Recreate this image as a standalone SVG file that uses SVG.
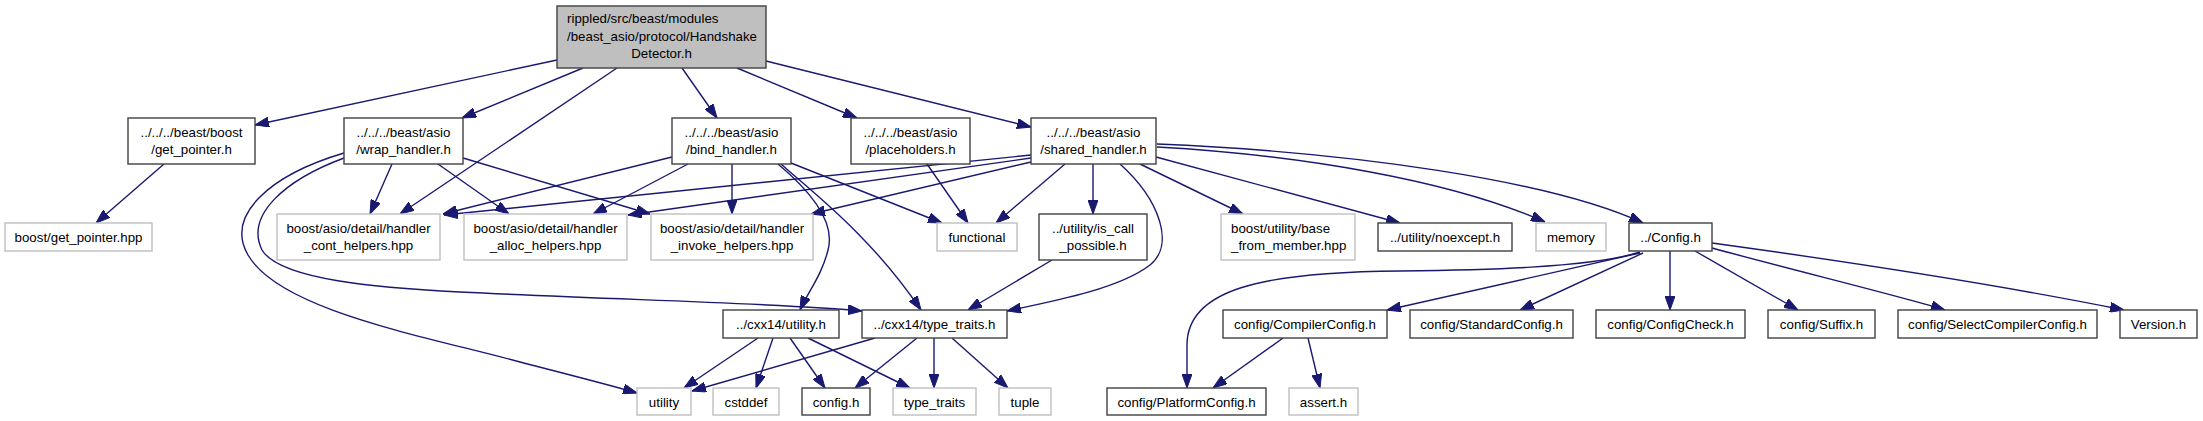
<svg xmlns="http://www.w3.org/2000/svg" width="2203" height="421" viewBox="0 0 2203 421">
<style>
text{font-family:"Liberation Sans",Arial,sans-serif;font-size:13.3px;fill:#000;text-anchor:middle}
.d rect{fill:#fff;stroke:#404040;stroke-width:1.4}
.u rect{fill:#fff;stroke:#bfbfbf;stroke-width:1.4}
.r rect{fill:#bfbfbf;stroke:#404040;stroke-width:1.4}
.l{text-anchor:start}
#edges path{fill:none;stroke:#191970;stroke-width:1.4;marker-end:url(#a)}
</style>
<defs>
<marker id="a" markerWidth="14" markerHeight="10" refX="14" refY="5" orient="auto" markerUnits="userSpaceOnUse"><path d="M0,0 L14,5 L0,10 z" fill="#191970" stroke="#191970" stroke-width="1"/></marker>
</defs>
<rect width="2203" height="421" fill="#fff"/>
<g id="edges">
<path d="M557,60 L255,125"/>
<path d="M583,68 L462,118"/>
<path d="M617,68 L400,214"/>
<path d="M682,68 L717,118"/>
<path d="M737,68 L857,118"/>
<path d="M766,61 L1031,127"/>
<path d="M164,164 L96,223"/>
<path d="M392,164 L370,214"/>
<path d="M438,164 L509,214"/>
<path d="M463,158 L650,214"/>
<path d="M344,153 C270,175 225,215 248,255 C280,310 420,335 520,362 C570,375 610,385 637,393"/>
<path d="M344,158 C285,180 245,215 262,250 C280,280 380,288 460,292 C620,300 780,303 862,311"/>
<path d="M672,157 L443,214"/>
<path d="M688,164 L593,214"/>
<path d="M732,164 L732,214"/>
<path d="M791,163 L942,223"/>
<path d="M778,164 C815,195 835,225 828,250 C822,275 808,292 800,310"/>
<path d="M781,164 C812,192 870,235 921,310"/>
<path d="M927,164 L968,223"/>
<path d="M1031,155 L444,215"/>
<path d="M1031,158 L628,215"/>
<path d="M1031,162 L811,214"/>
<path d="M1065,164 L996,223"/>
<path d="M1093,164 L1093,214"/>
<path d="M1120,164 C1160,200 1175,245 1150,265 C1120,288 1060,300 1007,311"/>
<path d="M1140,164 L1243,214"/>
<path d="M1156,157 L1400,223"/>
<path d="M1157,147 C1300,155 1450,180 1545,222"/>
<path d="M1157,144 C1350,152 1550,180 1643,223"/>
<path d="M1052,260 L968,310"/>
<path d="M758,338 L684,388"/>
<path d="M773,338 L756,388"/>
<path d="M790,338 L825,388"/>
<path d="M808,338 L910,388"/>
<path d="M875,338 L692,391"/>
<path d="M917,338 L855,388"/>
<path d="M934,338 L934,388"/>
<path d="M952,338 L1008,388"/>
<path d="M1640,252 C1590,268 1480,270 1400,271 C1260,272 1187,290 1187,345 L1187,388"/>
<path d="M1640,253 L1387,310"/>
<path d="M1643,253 L1520,310"/>
<path d="M1670,251 L1670,310"/>
<path d="M1695,251 L1798,310"/>
<path d="M1712,248 C1800,272 1900,296 1945,310"/>
<path d="M1712,243 C1850,262 2000,285 2124,310"/>
<path d="M1283,338 L1213,388"/>
<path d="M1308,338 L1320,388"/>
</g>
<g id="root" class="r"><rect x="557" y="6" width="209" height="62"/><text class="l" x="567" y="23">rippled/src/beast/modules</text><text class="l" x="567" y="41">/beast_asio/protocol/Handshake</text><text x="661.5" y="58">Detector.h</text></g>
<g id="get_pointer_h" class="d"><rect x="128" y="118" width="127" height="46"/><text x="191.5" y="137">../../../beast/boost</text><text x="191.5" y="154">/get_pointer.h</text></g>
<g id="wrap_handler" class="d"><rect x="344" y="118" width="119" height="46"/><text x="403.5" y="137">../../../beast/asio</text><text x="403.5" y="154">/wrap_handler.h</text></g>
<g id="bind_handler" class="d"><rect x="672" y="118" width="119" height="46"/><text x="731.5" y="137">../../../beast/asio</text><text x="731.5" y="154">/bind_handler.h</text></g>
<g id="placeholders" class="d"><rect x="851" y="118" width="119" height="46"/><text x="910.5" y="137">../../../beast/asio</text><text x="910.5" y="154">/placeholders.h</text></g>
<g id="shared_handler" class="d"><rect x="1031" y="118" width="125" height="46"/><text x="1093.5" y="137">../../../beast/asio</text><text x="1093.5" y="154">/shared_handler.h</text></g>
<g id="get_pointer_hpp" class="u"><rect x="5" y="223" width="147" height="28"/><text x="78.5" y="242">boost/get_pointer.hpp</text></g>
<g id="cont_helpers" class="u"><rect x="277" y="214" width="163" height="46"/><text x="358.5" y="233">boost/asio/detail/handler</text><text x="358.5" y="250">_cont_helpers.hpp</text></g>
<g id="alloc_helpers" class="u"><rect x="464" y="214" width="163" height="46"/><text x="545.5" y="233">boost/asio/detail/handler</text><text x="545.5" y="250">_alloc_helpers.hpp</text></g>
<g id="invoke_helpers" class="u"><rect x="651" y="214" width="162" height="46"/><text x="732" y="233">boost/asio/detail/handler</text><text x="732" y="250">_invoke_helpers.hpp</text></g>
<g id="functional" class="u"><rect x="937" y="223" width="80" height="28"/><text x="977" y="242">functional</text></g>
<g id="is_call_possible" class="d"><rect x="1039" y="214" width="108" height="46"/><text x="1093" y="233">../utility/is_call</text><text x="1093" y="250">_possible.h</text></g>
<g id="base_from_member" class="u"><rect x="1221" y="214" width="134" height="46"/><text class="l" x="1231" y="233">boost/utility/base</text><text class="l" x="1231" y="250">_from_member.hpp</text></g>
<g id="noexcept" class="d"><rect x="1378" y="223" width="134" height="28"/><text x="1445" y="242">../utility/noexcept.h</text></g>
<g id="memory" class="u"><rect x="1536" y="223" width="70" height="28"/><text x="1571" y="242">memory</text></g>
<g id="Config_h" class="d"><rect x="1629" y="223" width="83" height="28"/><text x="1670.5" y="242">../Config.h</text></g>
<g id="cxx14_utility" class="d"><rect x="723" y="310" width="116" height="28"/><text x="781" y="329">../cxx14/utility.h</text></g>
<g id="cxx14_type_traits" class="d"><rect x="862" y="310" width="145" height="28"/><text x="934.5" y="329">../cxx14/type_traits.h</text></g>
<g id="CompilerConfig" class="d"><rect x="1223" y="310" width="164" height="28"/><text x="1305" y="329">config/CompilerConfig.h</text></g>
<g id="StandardConfig" class="d"><rect x="1410" y="310" width="163" height="28"/><text x="1491.5" y="329">config/StandardConfig.h</text></g>
<g id="ConfigCheck" class="d"><rect x="1596" y="310" width="149" height="28"/><text x="1670.5" y="329">config/ConfigCheck.h</text></g>
<g id="Suffix" class="d"><rect x="1768" y="310" width="107" height="28"/><text x="1821.5" y="329">config/Suffix.h</text></g>
<g id="SelectCompilerConfig" class="d"><rect x="1898" y="310" width="199" height="28"/><text x="1997.5" y="329">config/SelectCompilerConfig.h</text></g>
<g id="Version" class="d"><rect x="2120" y="310" width="77" height="28"/><text x="2158.5" y="329">Version.h</text></g>
<g id="utility" class="u"><rect x="637" y="388" width="54" height="27"/><text x="664" y="406.5">utility</text></g>
<g id="cstddef" class="u"><rect x="713" y="388" width="66" height="27"/><text x="746" y="406.5">cstddef</text></g>
<g id="config_h" class="d"><rect x="802" y="388" width="68" height="27"/><text x="836" y="406.5">config.h</text></g>
<g id="type_traits" class="u"><rect x="893" y="388" width="83" height="27"/><text x="934.5" y="406.5">type_traits</text></g>
<g id="tuple" class="u"><rect x="999" y="388" width="52" height="27"/><text x="1025" y="406.5">tuple</text></g>
<g id="PlatformConfig" class="d"><rect x="1107" y="388" width="159" height="27"/><text x="1186.5" y="406.5">config/PlatformConfig.h</text></g>
<g id="assert_h" class="u"><rect x="1289" y="388" width="69" height="27"/><text x="1323.5" y="406.5">assert.h</text></g>
</svg>
